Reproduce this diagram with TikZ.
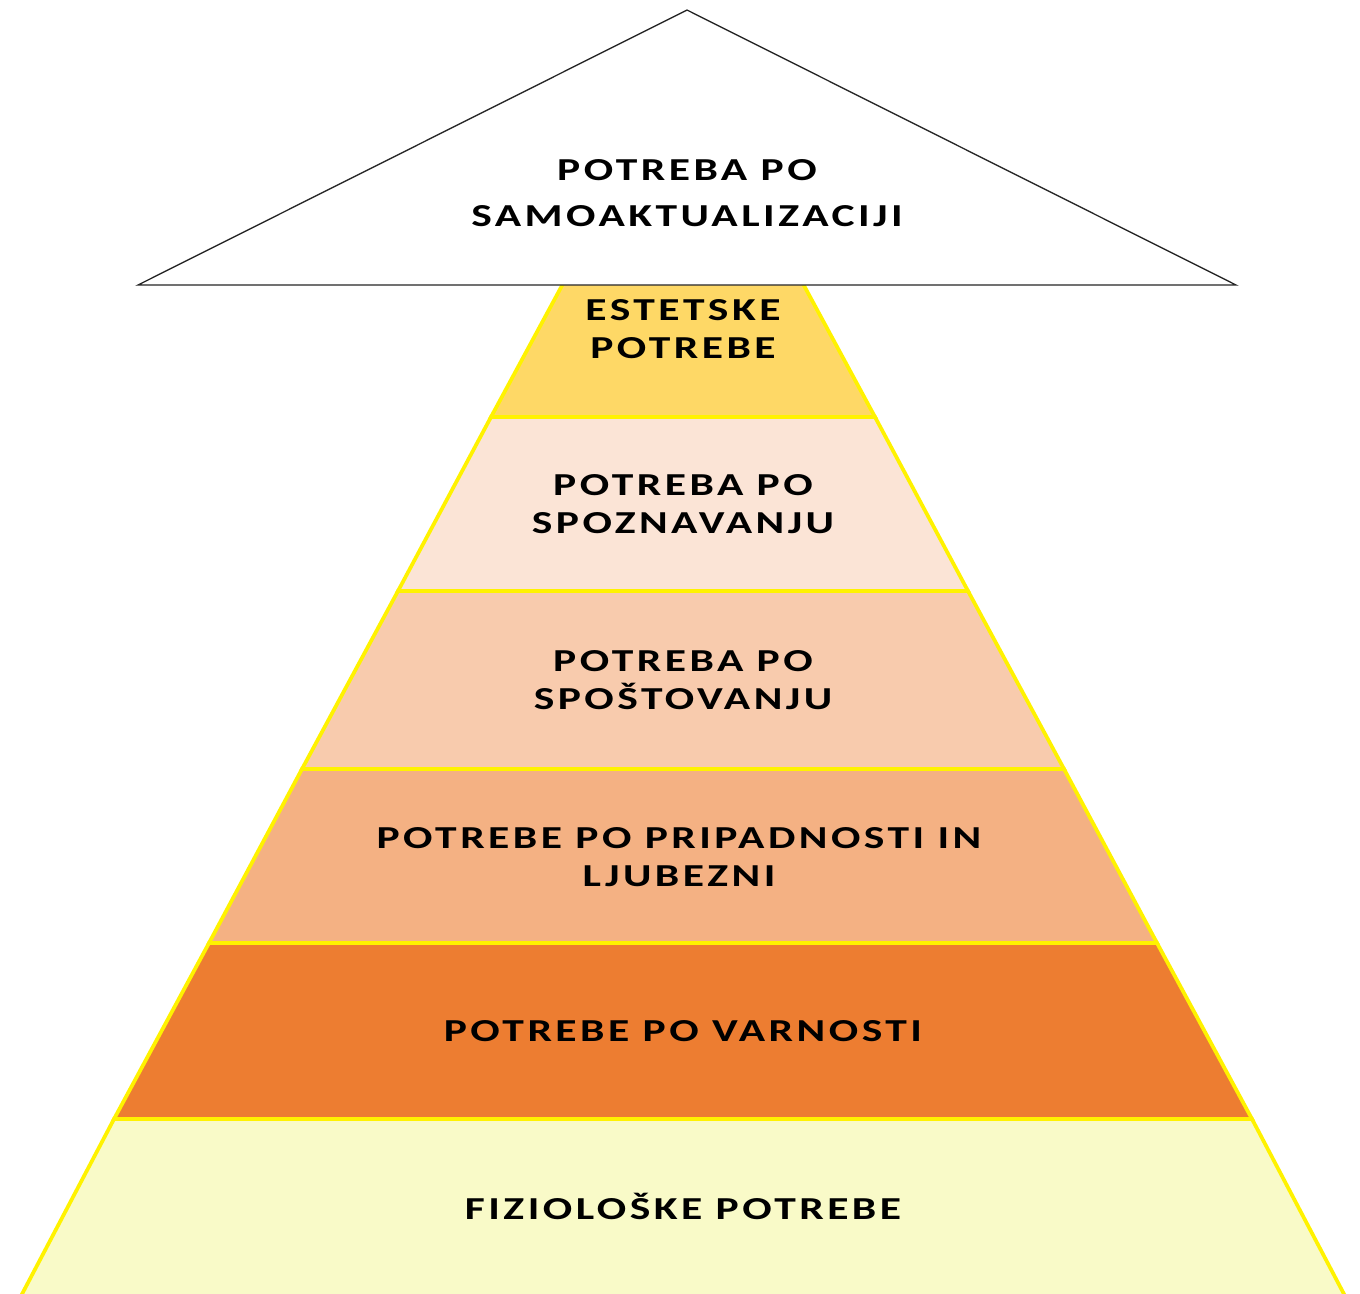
\documentclass[tikz,border=0pt]{standalone}
\usepackage{fontspec}
\setmainfont[LetterSpace=8]{Carlito}
\usepackage{tikz}

\definecolor{estetska}{HTML}{FED866}
\definecolor{spoznavna}{HTML}{FBE4D6}
\definecolor{spostljiva}{HTML}{F8CBAD}
\definecolor{pripadna}{HTML}{F4B183}
\definecolor{varna}{HTML}{ED7D31}
\definecolor{fizioloska}{HTML}{F9FAC8}

\begin{document}
\begin{tikzpicture}[x=0.75pt, y=-0.75pt,
    layer/.style={draw=yellow, line width=2.8pt, line join=miter},
    need/.style={font=\bfseries\fontsize{24}{28.5}\selectfont, align=center, text=black, inner sep=0pt, xscale=1.36, transform shape},
    semithick]
    \useasboundingbox (0,0) rectangle (1360,1293);

    % levels of the pyramid, bottom first
    \filldraw[layer, fill=fizioloska] (114,1119) -- (1252,1119) -- (1345,1296) -- (21,1296) -- cycle;
    \filldraw[layer, fill=varna] (209,943) -- (1157,943) -- (1252,1119) -- (114,1119) -- cycle;
    \filldraw[layer, fill=pripadna] (302,769) -- (1064,769) -- (1157,943) -- (209,943) -- cycle;
    \filldraw[layer, fill=spostljiva] (398,591) -- (968,591) -- (1064,769) -- (302,769) -- cycle;
    \filldraw[layer, fill=spoznavna] (491,417) -- (875,417) -- (968,591) -- (398,591) -- cycle;
    \filldraw[layer, fill=estetska] (585,243) -- (781,243) -- (875,417) -- (491,417) -- cycle;

    % roof
    \filldraw[draw=black!85, fill=white, line width=1pt] (687,10) -- (1236,285) -- (138,285) -- cycle;

    \node[need] (fizioloske) at (683,1206) {FIZIOLOŠKE POTREBE};
    \node[need] (varnost) at (683,1031) {POTREBE PO VARNOSTI};
    \node[need] (pripadnost) at (679,857) {POTREBE PO PRIPADNOSTI IN\\LJUBEZNI};
    \node[need] (spostovanje) at (683,680) {POTREBA PO\\SPOŠTOVANJU};
    \node[need] (spoznavanje) at (683,504) {POTREBA PO\\SPOZNAVANJU};
    \node[need] (estetske) at (683,329) {ESTETSKE\\POTREBE};
    \node[need, font=\bfseries\fontsize{24}{34.5}\selectfont] (samoakt) at (687,193) {POTREBA PO\\SAMOAKTUALIZACIJI};
\end{tikzpicture}
\end{document}
